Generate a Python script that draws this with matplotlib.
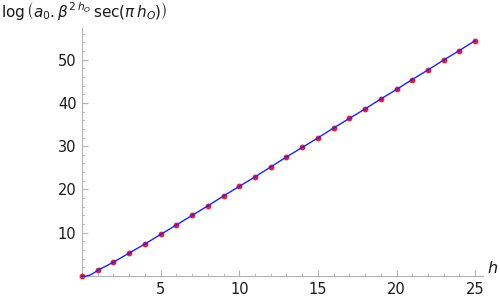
import matplotlib
matplotlib.use("Agg")
import matplotlib.pyplot as plt
from matplotlib.ticker import MultipleLocator

# point values (h = 0..25)
h_pts = list(range(26))
y_pts = [0.0, 1.3, 3.2, 5.3, 7.4, 9.6, 11.8, 14.0, 16.2, 18.5, 20.7,
         22.9, 25.2, 27.5, 29.7, 31.9, 34.2, 36.4, 38.6, 40.9, 43.1,
         45.4, 47.6, 49.9, 52.1, 54.4]

# extra samples for the curved start of the line
h_start = [0.0, 0.25, 0.5, 0.75]
y_start = [0.0, -0.05, 0.2, 0.7]

h_line = h_start + h_pts[1:]
y_line = y_start + y_pts[1:]

axis_grey = "#b3b3b3"

fig = plt.figure(figsize=(5.0, 2.97), dpi=100)
ax = fig.add_axes([0.164, 0.0707, 0.802, 0.835])

ax.plot(h_pts, y_pts, "o", color="#e8202a", markersize=3.2, zorder=2,
        clip_on=False)
ax.plot(h_line, y_line, color="#2020ff", linewidth=1.0, zorder=3,
        clip_on=False)

ax.set_xlim(0, 25.5)
ax.set_ylim(0, 57.3)

for side in ("top", "right"):
    ax.spines[side].set_visible(False)
for side in ("left", "bottom"):
    ax.spines[side].set_color(axis_grey)
    ax.spines[side].set_linewidth(0.8)
    ax.spines[side].set_zorder(1)

ax.xaxis.set_major_locator(MultipleLocator(5))
ax.xaxis.set_minor_locator(MultipleLocator(1))
ax.yaxis.set_major_locator(MultipleLocator(10))
ax.yaxis.set_minor_locator(MultipleLocator(2))
ax.set_xticks([5, 10, 15, 20, 25])
ax.set_yticks([10, 20, 30, 40, 50])

ax.tick_params(which="major", direction="in", length=4, width=0.8,
               color=axis_grey, labelsize=10.5, labelcolor="#1a1a1a", pad=4)
ax.tick_params(which="minor", direction="in", length=2, width=0.6,
               color=axis_grey)

ax.text(1.01, 0.0, "$h$", transform=ax.transAxes, fontsize=11.5,
        ha="left", va="bottom", color="#1a1a1a")
fig.text(0.002, 0.962,
         r"$\log\left(a_0.\beta^{2\,h_O}\,\sec(\pi\,h_O)\right)$",
         fontsize=11, ha="left", va="center", color="#1a1a1a")

fig.savefig("out.png", dpi=100)
